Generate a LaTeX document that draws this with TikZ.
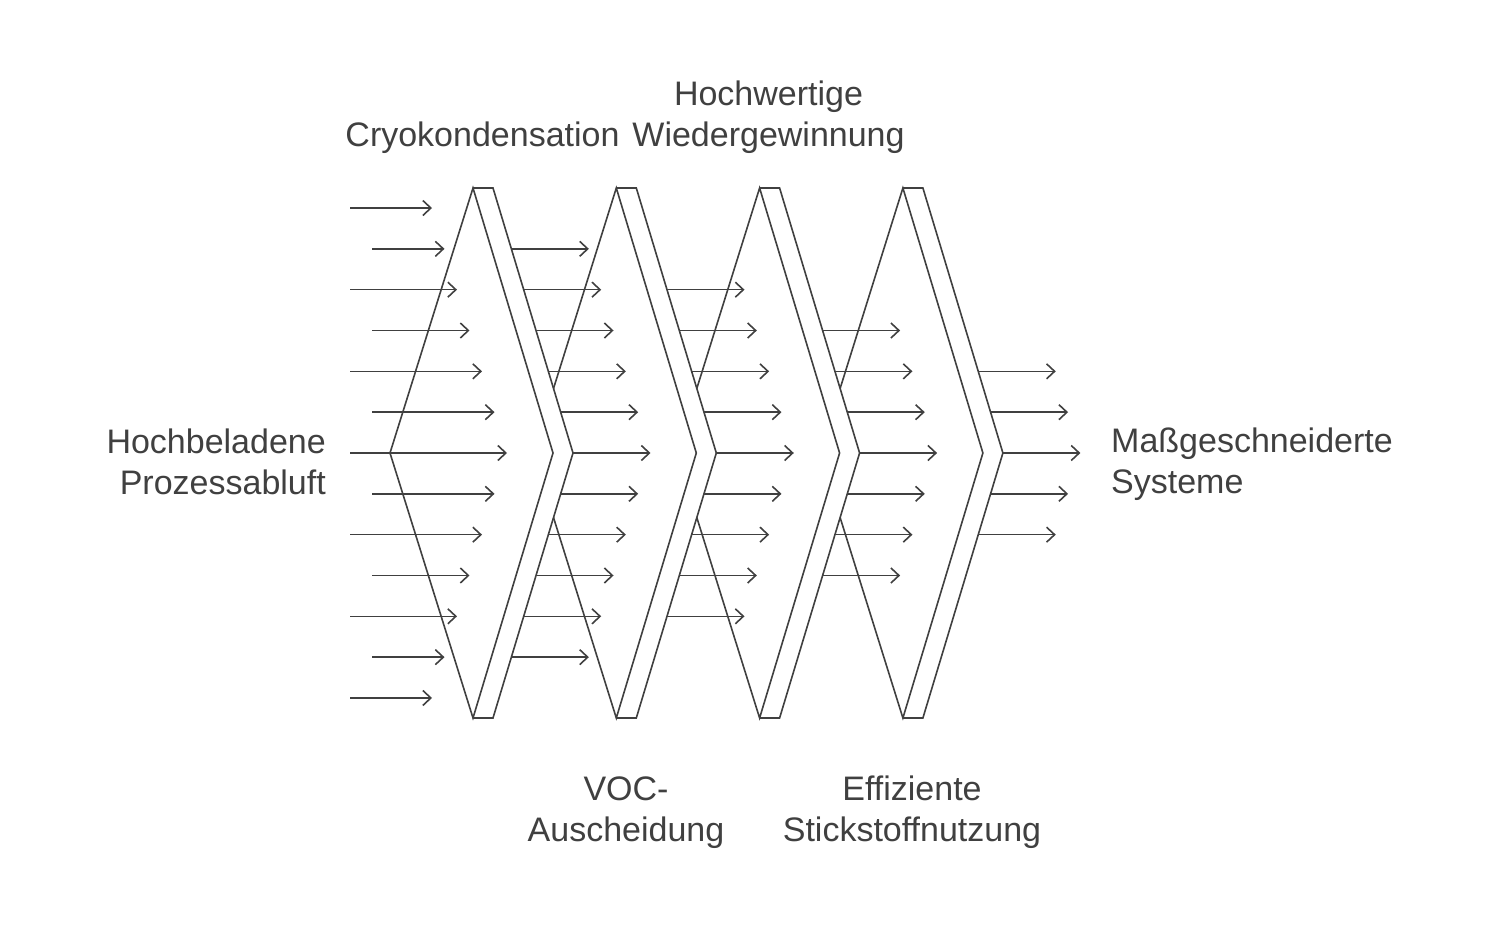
\documentclass[tikz,border=0pt]{standalone}
\usepackage{fontspec}
\setmainfont{Liberation Sans}
\usetikzlibrary{arrows.meta,positioning,calc}
\definecolor{ink}{HTML}{404040}

\tikzset{
  stage/.style={draw=ink, line width=1.6pt, line join=miter},
  flow/.style={draw=ink, line width=1.6pt, -{Straight Barb[length=8pt,width=15pt]}},
  txt/.style={text=ink, inner sep=0pt, font=\fontsize{34}{41}\selectfont}
}

\begin{document}
\begin{tikzpicture}[x=1pt, y=-1pt]
  \useasboundingbox (0,0) rectangle (1500,928);

  % filter stages, back to front
  \foreach \i in {3,2,1,0} {
    \pgfmathsetmacro{\xo}{473+143.3*\i}
    \coordinate (top\i) at (\xo,188);
    \coordinate (bot\i) at (\xo,718);
    \coordinate (left\i) at (\xo-83,453);
    \coordinate (tip\i) at (\xo+80,453);
    \coordinate (outtop\i) at (\xo+20,188);
    \coordinate (outtip\i) at (\xo+100,453);
    \coordinate (outbot\i) at (\xo+20,718);
    \fill[white] (top\i) -- (left\i) -- (bot\i) -- (outbot\i) -- (outtip\i) -- (outtop\i) -- cycle;
    \draw[stage] (top\i) -- (left\i) -- (bot\i) -- (tip\i) -- cycle;
    \draw[stage] (top\i) -- (outtop\i) -- (outtip\i) -- (outbot\i) -- (bot\i);
  }

  % incoming exhaust air
  \foreach \k in {-6,...,6} {
    \pgfmathtruncatemacro{\r}{\k+6}
    \pgfmathsetmacro{\yy}{453+40.83*\k}
    \pgfmathsetmacro{\xs}{mod(abs(\k),2)==1 ? 372 : 350}
    \pgfmathsetmacro{\xe}{507-12.5*abs(\k)}
    \coordinate (in\r) at (\xs,\yy);
    \coordinate (inend\r) at (\xe,\yy);
    \draw[flow] (in\r) -- (inend\r);
  }

  % air leaving each stage
  \foreach \i in {0,...,3} {
    \pgfmathtruncatemacro{\n}{5-\i}
    \foreach \k in {-\n,...,\n} {
      \pgfmathtruncatemacro{\r}{\k+6}
      \pgfmathsetmacro{\yy}{453+40.83*\k}
      \pgfmathsetmacro{\xs}{473+143.3*\i+20+80*(1-abs(\k)*40.83/265)}
      \coordinate (out\i-\r) at (\xs,\yy);
      \coordinate (outend\i-\r) at (\xs+77.5,\yy);
      \draw[flow] (out\i-\r) -- (outend\i-\r);
    }
  }

  % labels
  \node[txt, anchor=east, align=right] (source) at (326,461.5) {Hochbeladene\\Prozessabluft};
  \node[txt, anchor=west, align=left] (target) at (1111,464.5) {Maßgeschneiderte\\Systeme};
  \node[txt, anchor=south] (cryo) at (482.5,153.5) {Cryokondensation};
  \node[txt, anchor=south, align=center] (recovery) at (768.5,153.5) {Hochwertige\\Wiedergewinnung};
  \node[txt, anchor=north, align=center] (voc) at (626,776) {\vphantom{Effiziente}VOC-\\Auscheidung};
  \node[txt, anchor=north, align=center] (nitrogen) at (912,776) {Effiziente\\Stickstoffnutzung};
\end{tikzpicture}
\end{document}
